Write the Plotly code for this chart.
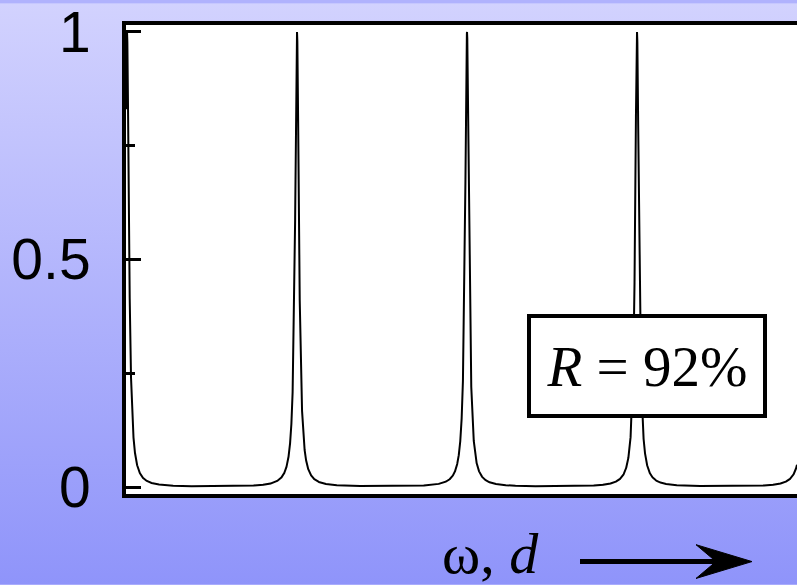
import base64
import numpy as np
import plotly.graph_objects as go

# Fabry-Perot transmission (Airy function) for mirror reflectivity R
reflectivity = 0.92
phase_start = -0.006          # in units of one free spectral range
phase_span = 671 / 170        # visible number of orders
y_tickvals = [0, 0.5, 1]
y_ticktext = ["0", "0.5", "1"]
y_minor_vals = [0.25, 0.75]

coef_f = 4 * reflectivity / (1 - reflectivity) ** 2
phase = np.linspace(phase_start, phase_start + phase_span, 40001)
transmission = 1.0 / (1.0 + coef_f * np.sin(np.pi * phase) ** 2)

W, H = 797, 585
ML, MR, MT, MB = 126, 0, 22, 91
PW, PH = W - ML - MR, H - MT - MB


def px(xp):
    return (xp - ML) / PW


def py(yp):
    return (H - MB - yp) / PH


# vertical lavender gradient behind the figure
svg = (
    f'<svg xmlns="http://www.w3.org/2000/svg" width="{W}" height="{H}" '
    f'viewBox="0 0 {W} {H}" preserveAspectRatio="none">'
    '<defs><linearGradient id="g" x1="0" y1="0" x2="0" y2="1">'
    '<stop offset="0" stop-color="#d2d2fe"/>'
    '<stop offset="1" stop-color="#8f94fa"/>'
    '</linearGradient></defs>'
    f'<rect width="{W}" height="{H}" fill="url(#g)"/></svg>'
)
bg_uri = "data:image/svg+xml;base64," + base64.b64encode(svg.encode()).decode()

fig = go.Figure()
fig.add_trace(go.Scatter(
    x=phase, y=transmission, mode="lines",
    line=dict(color="black", width=2), hoverinfo="skip", showlegend=False,
))

shapes = [
    # white plotting area over the gradient
    dict(type="rect", xref="paper", yref="paper", x0=0, x1=1, y0=0, y1=1,
         fillcolor="white", line=dict(width=0), layer="below"),
    # arrow shaft
    dict(type="line", xref="paper", yref="paper",
         x0=px(580), x1=px(722), y0=py(562), y1=py(562),
         line=dict(color="black", width=5)),
    # arrow head
    dict(type="path", xref="paper", yref="paper",
         path=(f"M{px(752)},{py(562)} L{px(696)},{py(545)} "
               f"L{px(716)},{py(562)} L{px(696)},{py(579)} Z"),
         fillcolor="black", line=dict(color="black", width=1)),
]

serif = "Liberation Serif, Times New Roman, serif"
annotations = [
    dict(xref="paper", yref="paper", x=px(647), y=py(365),
         text="<i>R</i> = 92%", showarrow=False,
         font=dict(family=serif, size=57, color="black"),
         bgcolor="white", bordercolor="black", borderwidth=4, borderpad=0,
         width=232, height=96, xanchor="center", yanchor="middle"),
    dict(xref="paper", yref="paper", x=px(490), y=py(554),
         text="ω, <i>d</i>", showarrow=False,
         font=dict(family=serif, size=58, color="black"),
         xanchor="center", yanchor="middle"),
]

fig.update_layout(
    width=W, height=H,
    margin=dict(l=ML, r=MR, t=MT, b=MB, pad=0),
    paper_bgcolor="#b0b2fd",
    plot_bgcolor="white",
    images=[dict(source=bg_uri, xref="paper", yref="paper",
                 x=px(0), y=py(0), sizex=W / PW, sizey=H / PH,
                 xanchor="left", yanchor="top", sizing="stretch", layer="below")],
    shapes=shapes,
    annotations=annotations,
    showlegend=False,
)

fig.update_xaxes(
    range=[phase_start, phase_start + phase_span],
    showline=True, linecolor="black", linewidth=4, mirror=True,
    showgrid=False, zeroline=False, ticks="", showticklabels=False,
)
fig.update_yaxes(
    range=[-7 / 458, 1 + 7 / 458],
    showline=True, linecolor="black", linewidth=4, mirror=False,
    showgrid=False, zeroline=False,
    tickmode="array", tickvals=y_tickvals, ticktext=y_ticktext,
    ticks="inside", ticklen=15, tickwidth=3, tickcolor="black",
    tickfont=dict(family="Liberation Sans, Arial, sans-serif", size=57, color="black"),
    ticklabelstandoff=20, ticklabeloverflow="allow",
    minor=dict(tickmode="array", tickvals=y_minor_vals, ticks="inside",
               ticklen=9, tickwidth=3, tickcolor="black", showgrid=False),
)

fig.write_html("out.html")
